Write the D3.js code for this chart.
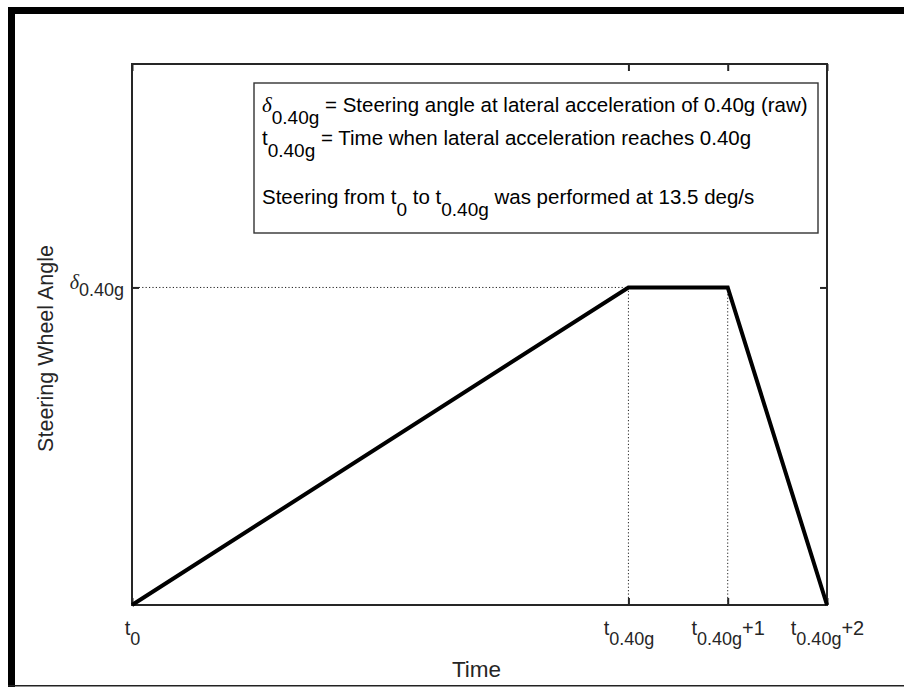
<!DOCTYPE html>
<html>
<head>
<meta charset="utf-8">
<script src="https://cdn.jsdelivr.net/npm/d3@7"></script>
<style>
  body { margin: 0; background: #fff; }
  svg text { font-family: "Liberation Sans", Arial, sans-serif; fill: #262626; }
  .greek { font-family: "Liberation Serif", "Times New Roman", serif; font-style: italic; }
</style>
</head>
<body>
<div id="chart"></div>
<script>
// data: steering ramp, hold, release
var timeVals  = [0, 5, 6, 7];
var angleVals = [0, 67.5, 67.5, 0];
var yMax = 115;

// tick labels, split in parts: [base, subscript, suffix]
var xTickVals   = [0, 5, 6, 7];
var xTickLabels = [["t", "0", ""], ["t", "0.40g", ""], ["t", "0.40g", "+1"], ["t", "0.40g", "+2"]];
var yTickVals   = [67.5];
var yTickLabels = [["\u03b4", "0.40g", ""]];

// annotation lines, [text, kind] parts
var noteLines = [
  [["\u03b4", "greek"], ["0.40g", "sub"], [" = Steering angle at lateral acceleration of 0.40g (raw)", ""]],
  [["t", ""], ["0.40g", "sub"], [" = Time when lateral acceleration reaches 0.40g", ""]],
  [],
  [["Steering from t", ""], ["0", "sub"], [" to t", ""], ["0.40g", "sub"], [" was performed at 13.5 deg/s", ""]]
];

var W = 904, H = 687;
var margin = {left: 132, top: 64, right: 77, bottom: 82};
var width = W - margin.left - margin.right;
var height = H - margin.top - margin.bottom;

var svg = d3.select("#chart").append("svg")
  .attr("width", W).attr("height", H);

// figure frame (thick top/left, thin bottom)
svg.append("rect").attr("x", 8).attr("y", 7).attr("width", W - 8).attr("height", 7).style("fill", "#000");
svg.append("rect").attr("x", 8).attr("y", 7).attr("width", 7).attr("height", H - 7).style("fill", "#000");
svg.append("rect").attr("x", 8).attr("y", H - 2).attr("width", W - 8).attr("height", 1.5).style("fill", "#222");

var g = svg.append("g")
  .attr("transform", "translate(" + margin.left + "," + margin.top + ")");

var xScale = d3.scaleLinear().domain([0, 7]).range([0, width]);
var yScale = d3.scaleLinear().domain([0, yMax]).range([height, 0]);

function richText(sel, parts, fs, subFs, shift) {
  sel.text(null);
  sel.append("tspan").attr("class", parts[0] == "\u03b4" ? "greek" : null)
    .style("font-size", fs + "px").text(parts[0]);
  sel.append("tspan").attr("dy", shift).style("font-size", subFs + "px").text(parts[1]);
  if (parts[2] != "") {
    sel.append("tspan").attr("dy", -shift).style("font-size", fs + "px").text(parts[2]);
  }
}

// dotted guide lines
var peak = {x0: timeVals[1], x1: timeVals[2], y: angleVals[1]};
g.append("line")
  .attr("x1", xScale(0)).attr("x2", xScale(peak.x0))
  .attr("y1", yScale(peak.y)).attr("y2", yScale(peak.y))
  .style("stroke", "#222").style("stroke-width", 1).style("stroke-dasharray", "1.2,2.2");
[peak.x0, peak.x1].forEach(function(t) {
  g.append("line")
    .attr("x1", xScale(t)).attr("x2", xScale(t))
    .attr("y1", yScale(peak.y)).attr("y2", yScale(0))
    .style("stroke", "#222").style("stroke-width", 1).style("stroke-dasharray", "1.2,2.2");
});

// axes with inward ticks
var xAxis = g.append("g").attr("class", "x axis")
  .attr("transform", "translate(0," + height + ")")
  .call(d3.axisBottom(xScale).tickValues(xTickVals).tickSizeInner(-7).tickSizeOuter(0).tickPadding(23));
xAxis.selectAll("text").each(function(d, i) {
  richText(d3.select(this), xTickLabels[i], 20, 18, 10);
});
g.append("g").call(d3.axisTop(xScale).tickValues(xTickVals).tickSizeInner(-7).tickSizeOuter(0).tickFormat(""));

var yAxis = g.append("g").attr("class", "y axis")
  .call(d3.axisLeft(yScale).tickValues(yTickVals).tickSizeInner(-7).tickSizeOuter(0).tickPadding(8));
yAxis.selectAll("text").attr("dy", "0.1em").each(function(d, i) {
  richText(d3.select(this), yTickLabels[i], 20, 18, 7);
});
g.append("g").attr("transform", "translate(" + width + ",0)")
  .call(d3.axisRight(yScale).tickValues(yTickVals).tickSizeInner(-7).tickSizeOuter(0).tickFormat(""));

g.selectAll(".domain").remove();
g.selectAll(".tick line").style("stroke", "#262626").style("stroke-width", 2);

// axes box
g.append("rect").attr("x", 0).attr("y", 0).attr("width", width).attr("height", height)
  .style("fill", "none").style("stroke", "#262626").style("stroke-width", 2);

// the steering trace
var line = d3.line()
  .x(function(d, i) { return xScale(timeVals[i]); })
  .y(function(d) { return yScale(d); });
g.append("path").datum(angleVals)
  .attr("d", line)
  .style("fill", "none").style("stroke", "#000").style("stroke-width", 4)
  .style("stroke-linejoin", "miter");

// axis titles
g.append("text").attr("x", width / 2 - 3).attr("y", height + 72)
  .attr("text-anchor", "middle").style("font-size", "22.5px").text("Time");
g.append("text").attr("transform", "rotate(-90)")
  .attr("x", -(height / 2) - 14).attr("y", -79)
  .attr("text-anchor", "middle").style("font-size", "21.5px").text("Steering Wheel Angle");

// annotation box
var box = {x: 122, y: 19, w: 564, h: 150};
g.append("rect").attr("x", box.x).attr("y", box.y).attr("width", box.w).attr("height", box.h)
  .style("fill", "#fff").style("stroke", "#333").style("stroke-width", 1.4);

var lineY = [48, 81, 112, 140];
noteLines.forEach(function(parts, i) {
  if (!parts.length) return;
  var txt = g.append("text").attr("x", box.x + 8).attr("y", lineY[i]).style("font-size", "20.5px").style("fill", "#000");
  var shifted = false;
  parts.forEach(function(p) {
    var ts = txt.append("tspan").text(p[0]);
    if (p[1] == "greek") ts.attr("class", "greek").style("font-size", "21px");
    if (p[1] == "sub") { ts.attr("dy", 12).style("font-size", "19px"); shifted = true; }
    else if (shifted) { ts.attr("dy", -12); shifted = false; }
  });
});
</script>
</body>
</html>
